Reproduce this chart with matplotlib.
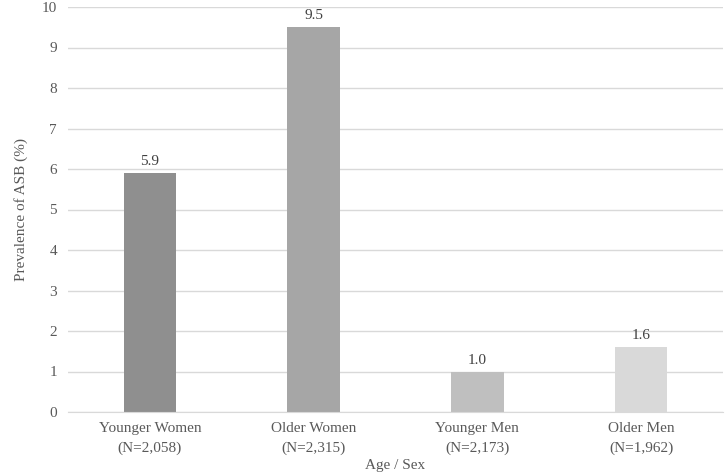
import matplotlib.pyplot as plt
import numpy as np

plt.rcParams['font.family'] = ['Liberation Serif', 'DejaVu Serif']

# data
groups = ['Younger Women\n(N=2,058)', 'Older Women\n(N=2,315)',
          'Younger Men\n(N=2,173)', 'Older Men\n(N=1,962)']
prevalence = [5.9, 9.5, 1.0, 1.6]
colors = ['#8f8f8f', '#a6a6a6', '#bfbfbf', '#d9d9d9']

fig = plt.figure(figsize=(7.26, 4.74), dpi=100)
ax = fig.add_axes([68/726, 1 - 412/474, 655/726, 405/474])

x = np.arange(len(groups))
ax.bar(x, prevalence, width=0.32, color=colors, zorder=2)

for xi, v in zip(x, prevalence):
    ax.text(xi, v + 0.12, f'{v:.1f}', ha='center', va='bottom',
            fontsize=11, color='#404040')

ax.set_xlim(-0.5, len(groups) - 0.5)
ax.set_ylim(0, 10)
ax.set_yticks(range(0, 11))
ax.set_xticks(x)
ax.set_xticklabels(groups, linespacing=1.65)
ax.grid(axis='y', color='#d9d9d9', linewidth=1, zorder=0)

for s in ['top', 'right', 'left']:
    ax.spines[s].set_visible(False)
ax.spines['bottom'].set_color('#d9d9d9')
ax.tick_params(axis='both', length=0, labelsize=11, colors='#595959')
ax.tick_params(axis='x', pad=7)
ax.tick_params(axis='y', pad=8)

ax.set_xlabel('Age / Sex', fontsize=11, color='#595959', labelpad=3)
ax.set_ylabel('Prevalence of ASB (%)', fontsize=11, color='#595959', labelpad=10)

fig.savefig('out.png', dpi=100)
